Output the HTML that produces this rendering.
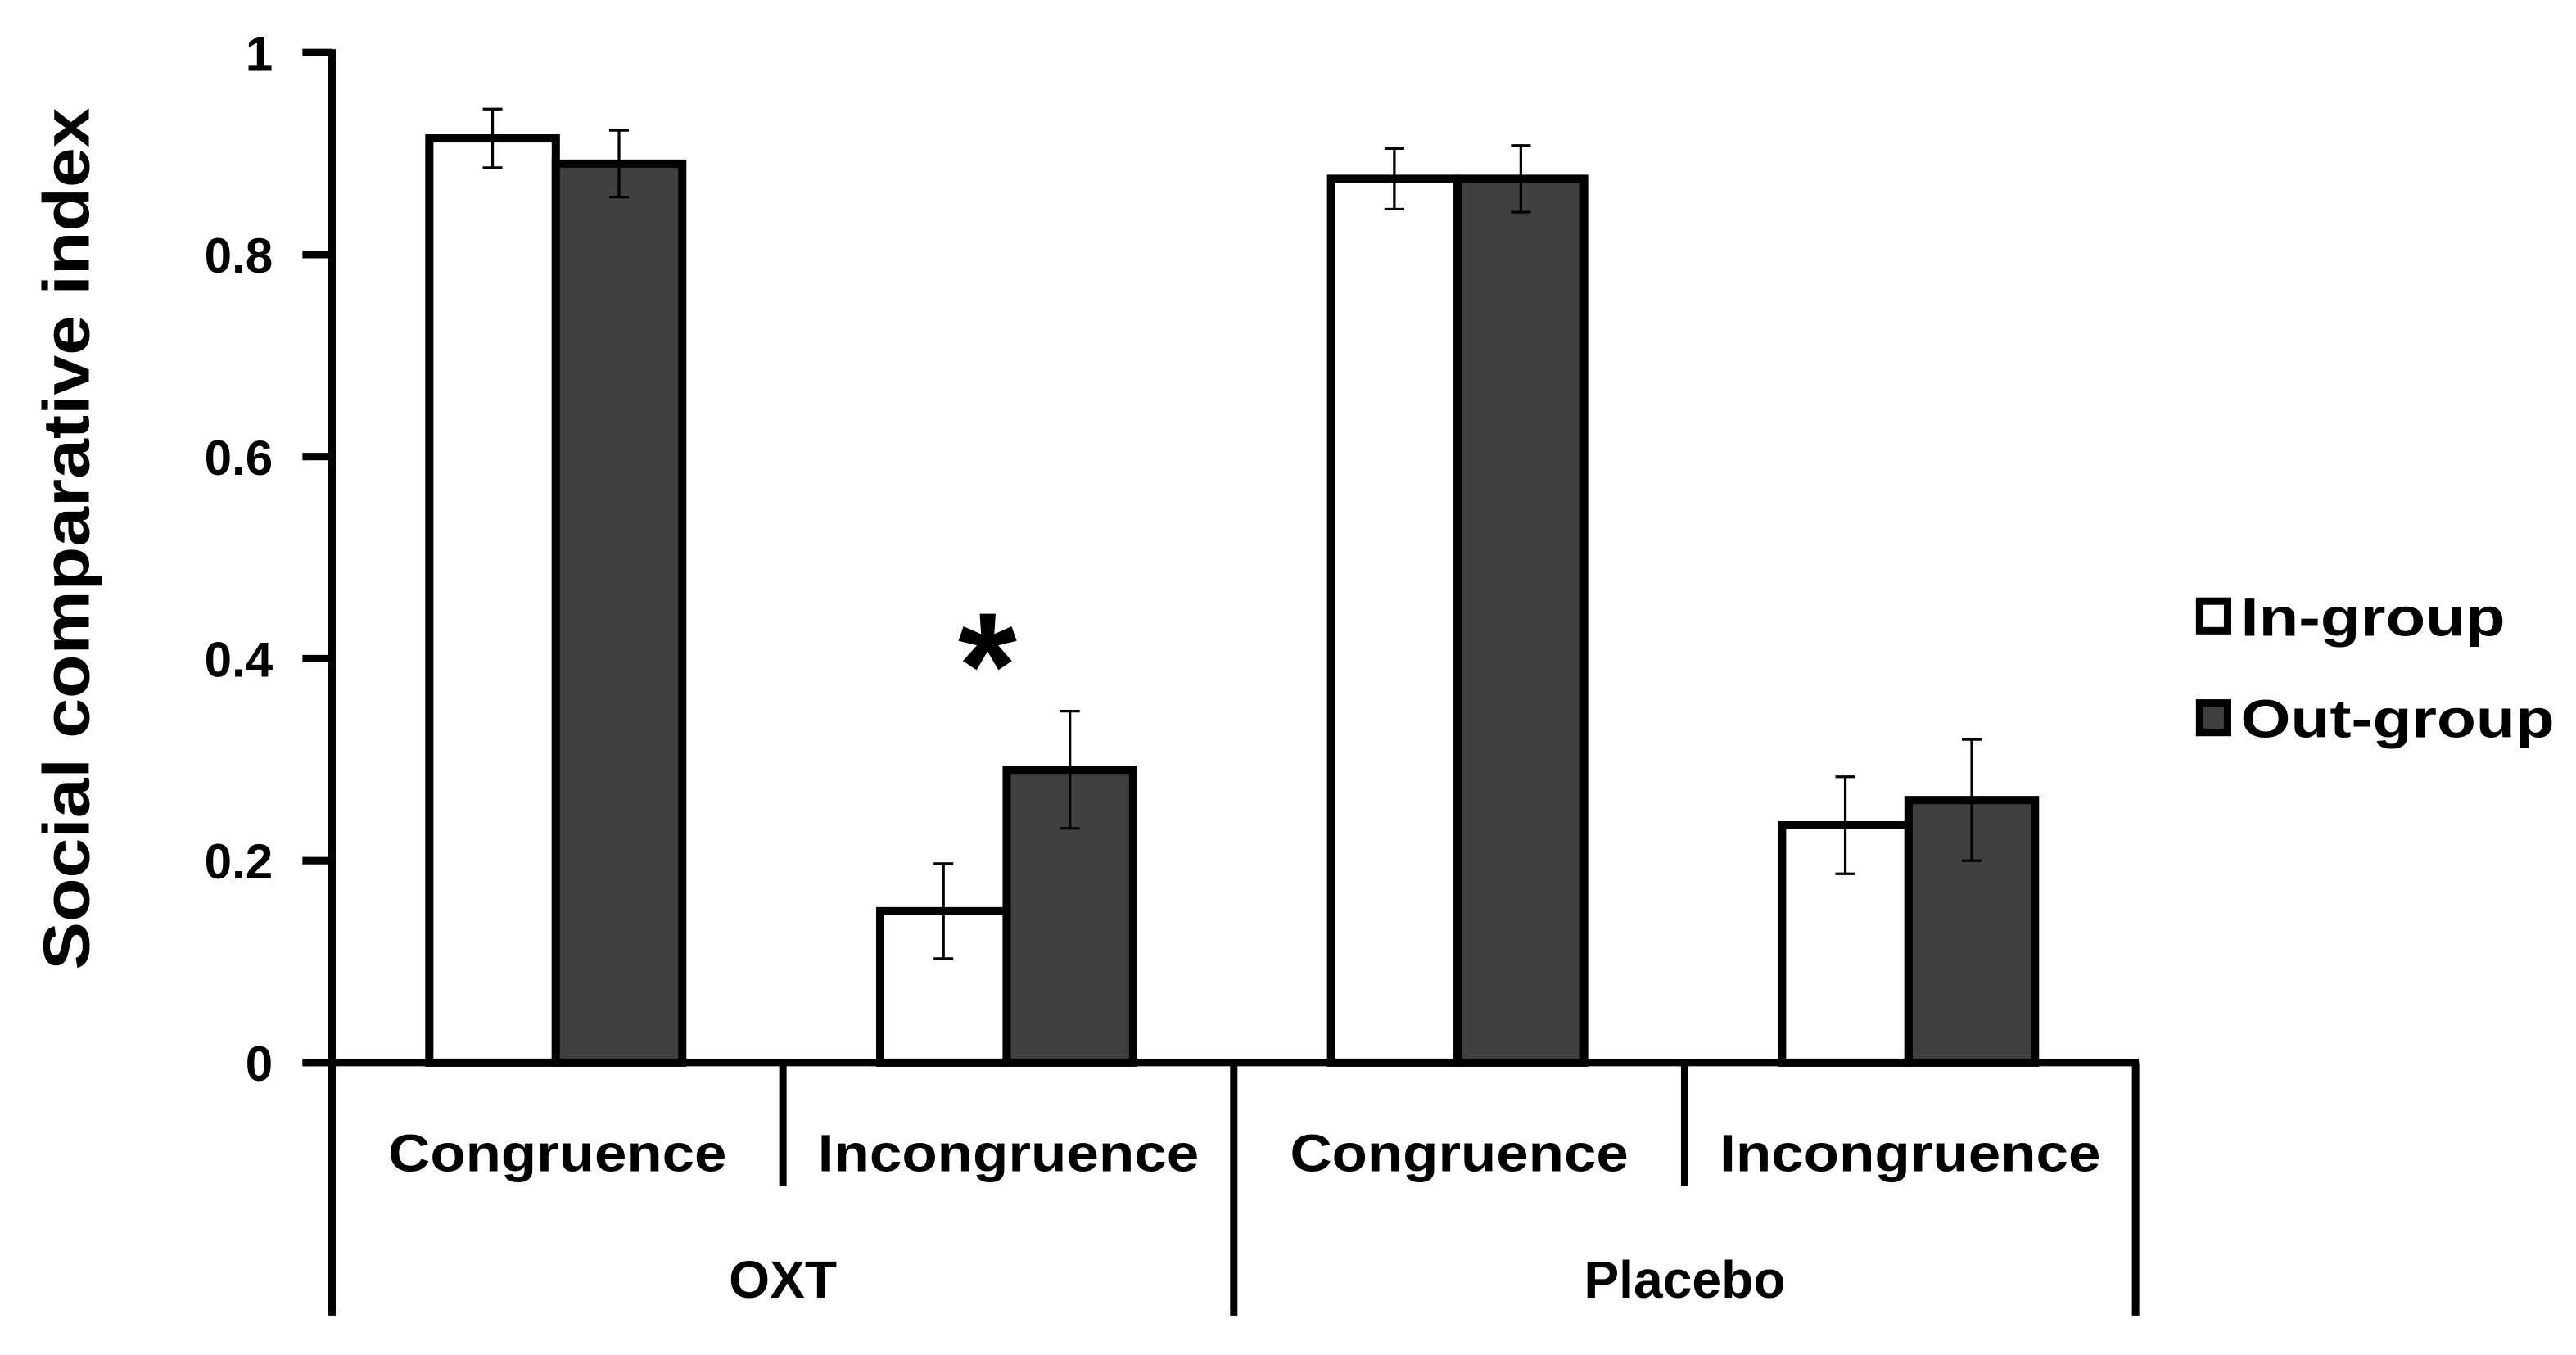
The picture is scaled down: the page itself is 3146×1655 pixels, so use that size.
<!DOCTYPE html>
<html><head><meta charset="utf-8"><style>
html,body{margin:0;padding:0;background:#fff;}
svg{display:block;font-family:"Liberation Sans","DejaVu Sans",sans-serif;font-weight:bold;}
</style></head><body>
<svg id="chart" width="3146" height="1655" viewBox="0 0 1568 825" xmlns="http://www.w3.org/2000/svg">
<g id="axes"></g>
<g id="bars"></g>
<text transform="translate(54,328) rotate(-90)" text-anchor="middle" font-size="40" fill="#000" textLength="525" lengthAdjust="spacingAndGlyphs">Social comparative index</text>
<text x="601" y="437" text-anchor="middle" font-size="92" fill="#000">*</text>
<g>
<rect x="1339" y="366" width="17" height="18" fill="#fff" stroke="#000" stroke-width="4.5"/>
<text x="1364" y="387" font-size="33" fill="#000" textLength="161" lengthAdjust="spacingAndGlyphs">In-group</text>
<rect x="1339" y="428" width="17" height="18" fill="#404040" stroke="#000" stroke-width="4.5"/>
<text x="1364" y="449" font-size="33" fill="#000" textLength="191" lengthAdjust="spacingAndGlyphs">Out-group</text>
</g>
</svg>
<script>
const categories = ["Congruence","Incongruence","Congruence","Incongruence"];
const groups = ["OXT","Placebo"];
const inGroup = [0.915, 0.15, 0.875, 0.235];
const outGroup = [0.89, 0.29, 0.875, 0.26];
const inGroupErr = [0.029, 0.047, 0.03, 0.048];
const outGroupErr = [0.033, 0.058, 0.033, 0.06];
const yTicks = [0, 0.2, 0.4, 0.6, 0.8, 1];
const yTickLabels = ["0","0.2","0.4","0.6","0.8","1"];

const NS = "http://www.w3.org/2000/svg";
const x0 = 202, x1 = 1300, yTop = 32, yZero = 647;
const catW = (x1 - x0) / categories.length;
function y(v){ return yZero - v * (yZero - yTop); }
function catX(i){ return x0 + i * catW; }
function mk(tag, attrs, parent){
  const e = document.createElementNS(NS, tag);
  for (const k in attrs) e.setAttribute(k, attrs[k]);
  parent.appendChild(e); return e;
}
const axes = document.getElementById('axes');
const bars = document.getElementById('bars');

let yl = mk('line', {x1:x0, y1:yTop-2, x2:x0, y2:801, stroke:'#000', 'stroke-width':4.5}, axes);


yTicks.forEach((t, i) => {
  const tk = mk('line', {x1:184, y1:y(t), x2:x0, y2:y(t), stroke:'#000', 'stroke-width':4.5}, axes);
  
  
  const lb = mk('text', {x:166, y:y(t)+11, 'text-anchor':'end', 'font-size':30, fill:'#000'}, axes);
  lb.textContent = yTickLabels[i];
  
  
});
let xl = mk('line', {x1:184, y1:yZero, x2:x1+2, y2:yZero, stroke:'#000', 'stroke-width':4.5}, axes);


for (let i = 1; i <= categories.length; i++) {
  const long = (i % 2 === 0);
  const d = mk('line', {x1:catX(i), y1:yZero, x2:catX(i), y2: long ? 801 : 722, stroke:'#000', 'stroke-width':4.5}, axes);
  
  
}
categories.forEach((c, i) => {
  const t = mk('text', {x:catX(i)+catW/2, y:713, 'text-anchor':'middle', 'font-size':32, fill:'#000', textLength: c.length > 10 ? 232 : 206, lengthAdjust:'spacingAndGlyphs'}, axes);
  t.textContent = c;
  
  
});
groups.forEach((g, i) => {
  const t = mk('text', {x:x0 + (i+0.5)*2*catW, y:790, 'text-anchor':'middle', 'font-size':32, fill:'#000'}, axes);
  t.textContent = g;
  
  
});
const bw = 77;
categories.forEach((c, i) => {
  const cx = catX(i) + catW/2;
  const series = [[inGroup[i], inGroupErr[i], '#fff', cx - bw - 1], [outGroup[i], outGroupErr[i], '#404040', cx - 1]];
  series.forEach((s, j) => {
    const r = mk('rect', {x:s[3], y:y(s[0]), width:bw, height:yZero - y(s[0]), fill:s[2], stroke:'#000', 'stroke-width':5}, bars);
    
    
    const ex = s[3] + bw/2;
    const eg = mk('g', {stroke:'#000', 'stroke-width':1.6}, bars);
    
    
    mk('line', {x1:ex, y1:y(s[0]+s[1]), x2:ex, y2:y(s[0]-s[1])}, eg);
    mk('line', {x1:ex-6, y1:y(s[0]+s[1]), x2:ex+6, y2:y(s[0]+s[1])}, eg);
    mk('line', {x1:ex-6, y1:y(s[0]-s[1]), x2:ex+6, y2:y(s[0]-s[1])}, eg);
  });
});
</script>
</body></html>
